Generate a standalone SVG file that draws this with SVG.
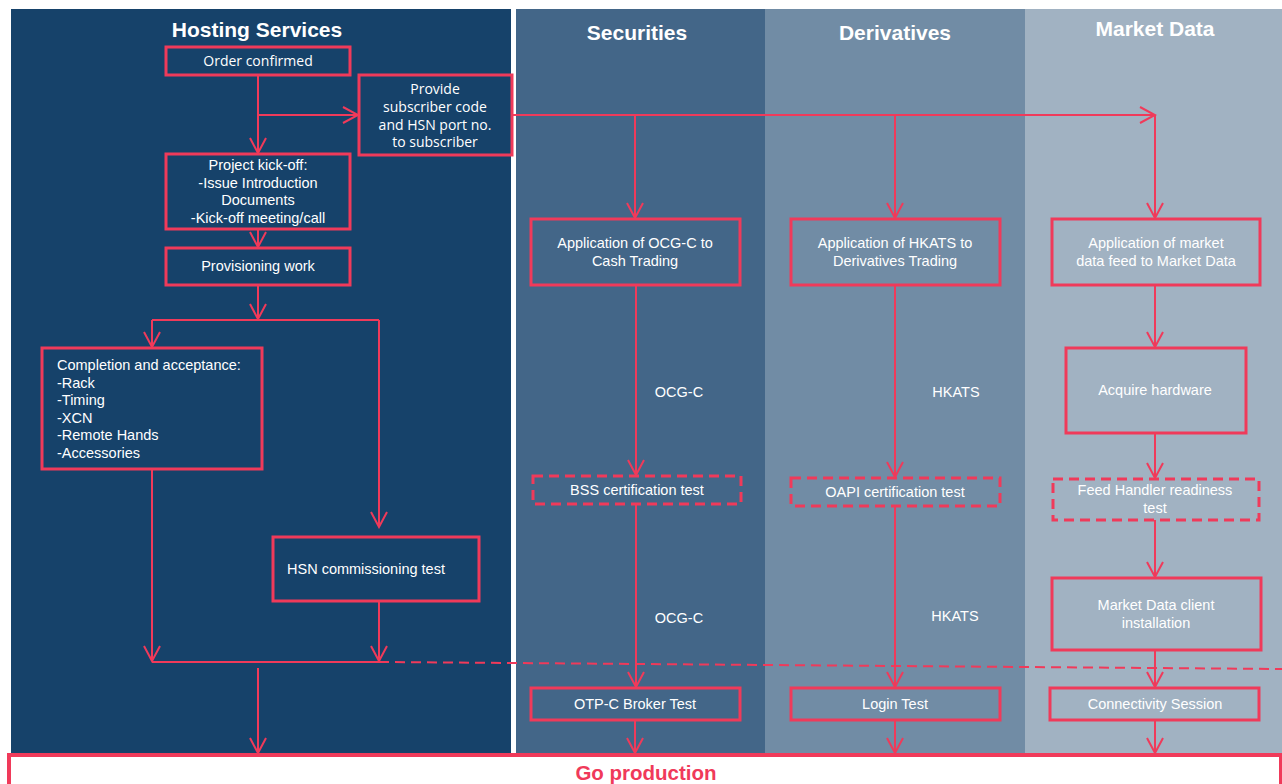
<svg xmlns="http://www.w3.org/2000/svg" width="1282" height="784" viewBox="0 0 1282 784">
<style>
.lt{font-family:"Liberation Sans",Arial,sans-serif;font-weight:bold;font-size:21px;fill:#fff;text-anchor:middle}
.box{fill:none;stroke:#F03A5A;stroke-width:3}
.dbox{fill:none;stroke:#F03A5A;stroke-width:3;stroke-dasharray:10 6}
.t{font-family:"Liberation Sans",Arial,sans-serif;font-size:14.5px;fill:#fff;text-anchor:middle}
.tl{font-family:"Liberation Sans",Arial,sans-serif;font-size:14.5px;fill:#fff}
.to{font-family:"Open Sans","Liberation Sans",sans-serif;font-size:14px;fill:#fff;text-anchor:middle}
.c{fill:none;stroke:#F03A5A;stroke-width:2}
.ca{fill:none;stroke:#F03A5A;stroke-width:2;marker-end:url(#ah)}
.cd{fill:none;stroke:#F03A5A;stroke-width:2;stroke-dasharray:10 6}
</style>
<defs>
<marker id="ah" markerUnits="userSpaceOnUse" viewBox="-17 -10 19 20" refX="0" refY="0" markerWidth="19" markerHeight="20" orient="auto">
<path d="M-15,-8 L0,0 L-15,8" fill="none" stroke="#F03A5A" stroke-width="2"/>
</marker>
</defs>
<rect width="1282" height="784" fill="#fff"/>
<g id="lanes">
<rect x="11" y="9" width="500" height="747" fill="#16426A"/>
<rect x="516" y="9" width="249" height="747" fill="#436688"/>
<rect x="765" y="9" width="260" height="747" fill="#718CA5"/>
<rect x="1025" y="9" width="257" height="747" fill="#A1B2C2"/>
<text class="lt" x="257" y="37">Hosting Services</text>
<text class="lt" x="637" y="40">Securities</text>
<text class="lt" x="895" y="40">Derivatives</text>
<text class="lt" x="1155" y="36">Market Data</text>
</g>
<g id="connectors">
<path class="ca" d="M258,75 V153"/>
<path class="ca" d="M258,115 H358"/>
<path class="ca" d="M258,229 V247"/>
<path class="ca" d="M258,285 V319"/>
<path class="c" d="M152,320 H379"/>
<path class="ca" d="M152,320 V347"/>
<path class="ca" d="M379,320 V527"/>
<path class="ca" d="M152,469 V661"/>
<path class="ca" d="M379,601 V661"/>
<path class="c" d="M152,662 H379"/>
<path class="cd" d="M379,662 L1282,669"/>
<path class="ca" d="M258,668 V753"/>
<path class="ca" d="M512,115 H1155"/>
<path class="ca" d="M635,115 V218"/>
<path class="ca" d="M895,115 V218"/>
<path class="ca" d="M1155,115 V218"/>
<path class="ca" d="M636,285 V475"/>
<path class="ca" d="M636,504 V687"/>
<path class="ca" d="M635,720 V753"/>
<path class="ca" d="M895,285 V477"/>
<path class="ca" d="M895,506 V687"/>
<path class="ca" d="M895,720 V753"/>
<path class="ca" d="M1155,285 V347"/>
<path class="ca" d="M1155,433 V478"/>
<path class="ca" d="M1155,520 V577"/>
<path class="ca" d="M1155,650 V687"/>
<path class="ca" d="M1155,720 V753"/>
<text class="t" x="679" y="397">OCG-C</text>
<text class="t" x="679" y="623">OCG-C</text>
<text class="t" x="956" y="397">HKATS</text>
<text class="t" x="955" y="621">HKATS</text>
</g>
<g id="order-confirmed">
<rect class="box" x="166" y="47" width="184" height="28"/>
<text class="to" x="258" y="66">Order confirmed</text>
</g>
<g id="provide-code">
<rect class="box" x="359" y="75" width="153" height="80"/>
<text class="to" x="435" y="94">Provide</text>
<text class="to" x="435" y="112">subscriber code</text>
<text class="to" x="435" y="129.5">and HSN port no.</text>
<text class="to" x="435" y="147">to subscriber</text>
</g>
<g id="project-kickoff">
<rect class="box" x="166" y="154" width="184" height="75"/>
<text class="t" x="258" y="170">Project kick-off:</text>
<text class="t" x="258" y="188">-Issue Introduction</text>
<text class="t" x="258" y="205">Documents</text>
<text class="t" x="258" y="222.5">-Kick-off meeting/call</text>
</g>
<g id="provisioning">
<rect class="box" x="166" y="248" width="184" height="37"/>
<text class="t" x="258" y="271">Provisioning work</text>
</g>
<g id="completion">
<rect class="box" x="42" y="348" width="220" height="121"/>
<text class="tl" x="57" y="370">Completion and acceptance:</text>
<text class="tl" x="57" y="387.5">-Rack</text>
<text class="tl" x="57" y="405">-Timing</text>
<text class="tl" x="57" y="422.5">-XCN</text>
<text class="tl" x="57" y="440">-Remote Hands</text>
<text class="tl" x="57" y="457.5">-Accessories</text>
</g>
<g id="hsn-test">
<rect class="box" x="273" y="537" width="206" height="64"/>
<text class="tl" x="287" y="574">HSN commissioning test</text>
</g>
<g id="app-ocgc">
<rect class="box" x="531" y="219" width="209" height="66"/>
<text class="t" x="635" y="248">Application of OCG-C to</text>
<text class="t" x="635" y="266">Cash Trading</text>
</g>
<g id="app-hkats">
<rect class="box" x="791" y="219" width="209" height="66"/>
<text class="t" x="895" y="248">Application of HKATS to</text>
<text class="t" x="895" y="266">Derivatives Trading</text>
</g>
<g id="app-md">
<rect class="box" x="1052" y="219" width="208" height="66"/>
<text class="t" x="1156" y="248">Application of market</text>
<text class="t" x="1156" y="266">data feed to Market Data</text>
</g>
<g id="bss-test">
<rect class="dbox" x="533" y="476" width="208" height="28"/>
<text class="t" x="637" y="495">BSS certification test</text>
</g>
<g id="oapi-test">
<rect class="dbox" x="791" y="478" width="209" height="28"/>
<text class="t" x="895" y="497">OAPI certification test</text>
</g>
<g id="acquire-hw">
<rect class="box" x="1066" y="348" width="180" height="85"/>
<text class="t" x="1155" y="395">Acquire hardware</text>
</g>
<g id="feed-handler">
<rect class="dbox" x="1053" y="479" width="206" height="41"/>
<text class="t" x="1155" y="495">Feed Handler readiness</text>
<text class="t" x="1155" y="513">test</text>
</g>
<g id="md-client">
<rect class="box" x="1052" y="578" width="209" height="72"/>
<text class="t" x="1156" y="610">Market Data client</text>
<text class="t" x="1156" y="628">installation</text>
</g>
<g id="otpc-test">
<rect class="box" x="531" y="688" width="209" height="32"/>
<text class="t" x="635" y="709">OTP-C Broker Test</text>
</g>
<g id="login-test">
<rect class="box" x="791" y="688" width="209" height="32"/>
<text class="t" x="895" y="709">Login Test</text>
</g>
<g id="connectivity">
<rect class="box" x="1050" y="688" width="209" height="32"/>
<text class="t" x="1155" y="709">Connectivity Session</text>
</g>
<g id="go-production">
<rect x="9" y="755" width="1272" height="40" fill="#fff" stroke="#F03A5A" stroke-width="4"/>
<text x="646" y="780" font-family="'Liberation Sans',Arial,sans-serif" font-weight="bold" font-size="20.5" fill="#F03A5A" text-anchor="middle">Go production</text>
</g>
</svg>
